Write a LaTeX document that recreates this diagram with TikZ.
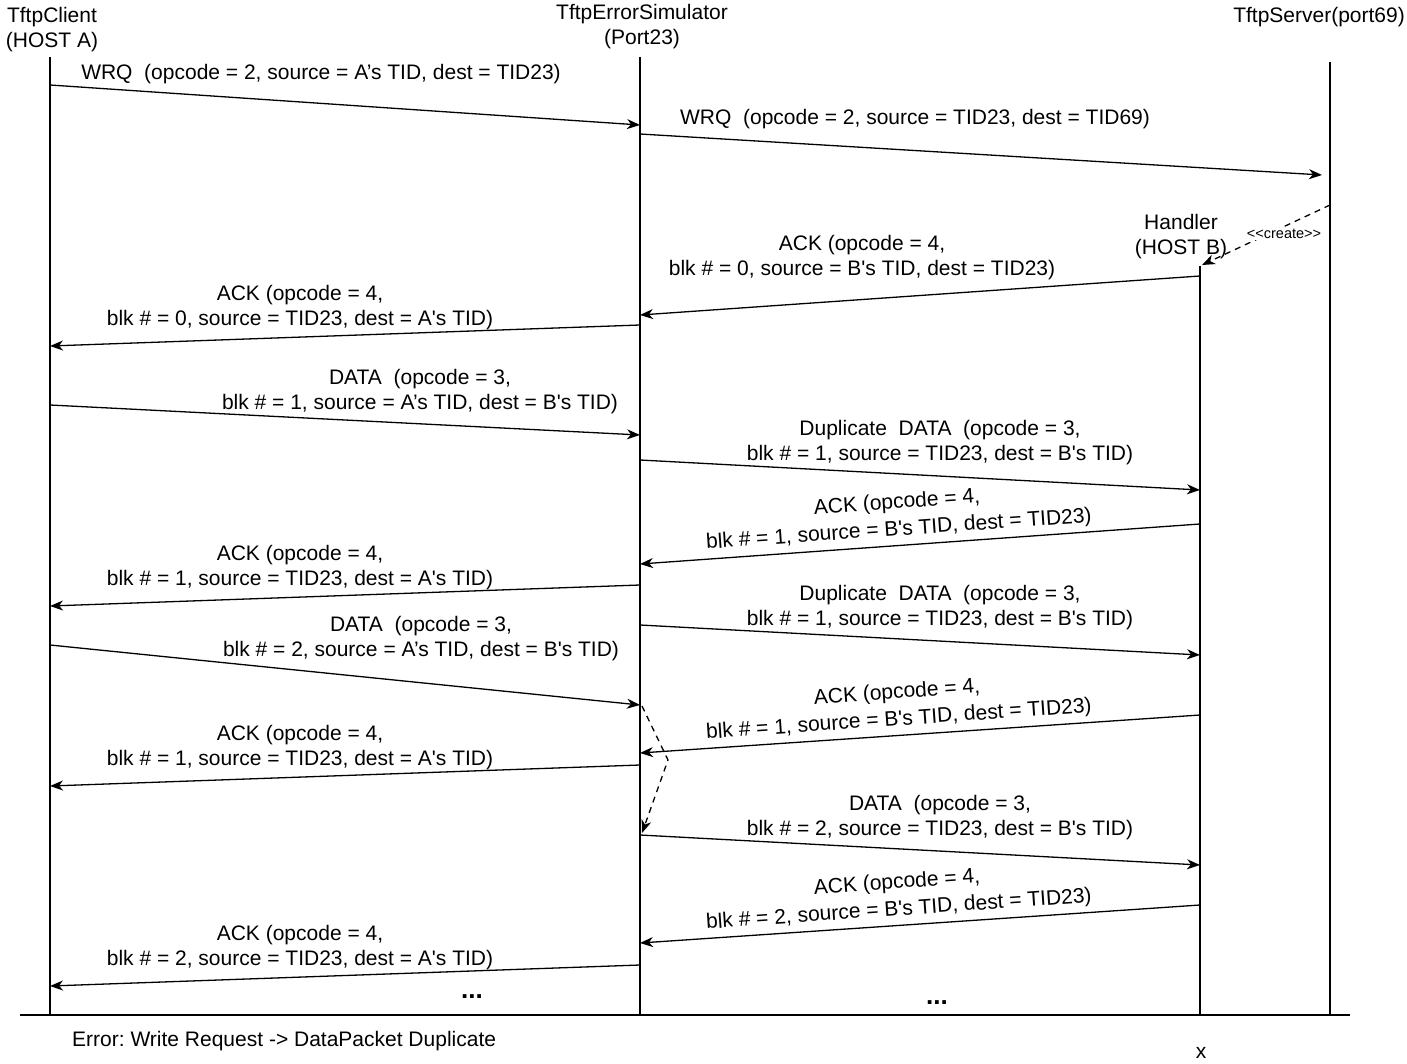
\documentclass[tikz,border=0pt]{standalone}
\usepackage{fontspec}
\setmainfont{Liberation Sans}[Ligatures=TeXOff]
\usetikzlibrary{arrows.meta}
\frenchspacing
\begin{document}
\begin{tikzpicture}[x=1pt,y=-1pt,
  msg/.style={line width=1.3pt,-{Stealth[length=13pt,width=10pt,inset=4pt]}},
  dmsg/.style={line width=1.3pt,dash pattern=on 6pt off 5pt,-{Stealth[length=13pt,width=10pt,inset=4pt]}},
  life/.style={line width=1.3pt},
  lbl/.style={align=center,inner sep=0pt,yshift=-2.5pt,font=\fontsize{21}{25}\selectfont},
  rlbl/.style={lbl,rotate=4,font=\fontsize{21}{27}\selectfont}]
\useasboundingbox (0,0) rectangle (1407,1064);
% headers
\node[lbl] (hA) at (52,27) {TftpClient\\(HOST A)};
\node[lbl] (hE) at (642,24) {TftpErrorSimulator\\(Port23)};
\node[lbl,anchor=east] (hS) at (1405,15) {TftpServer(port69)};
\node[lbl] (hB) at (1181,234) {Handler\\(HOST B)};
% lifeline ends
\coordinate (At) at (50,57);   \coordinate (Ab) at (50,1015);
\coordinate (Et) at (640,57);  \coordinate (Eb) at (640,1015);
\coordinate (St) at (1330,62); \coordinate (Sb) at (1330,1015);
\coordinate (Bt) at (1200,266); \coordinate (Bb) at (1200,1015);
\draw[life] (At) -- (Ab);
\draw[life] (Et) -- (Eb);
\draw[life] (St) -- (Sb);
\draw[life] (Bt) -- (Bb);
\coordinate (L1) at (20,1015); \coordinate (L2) at (1350,1015);
\draw[line width=2.4pt] (L1) -- (L2);
% messages
\coordinate (m1a) at (50,85);   \coordinate (m1b) at (640,125);
\draw[msg] (m1a) -- (m1b);
\node[lbl] (t1) at (321,72) {WRQ\ \ (opcode = 2, source = A’s TID, dest = TID23)};
\coordinate (m2a) at (640,134); \coordinate (m2b) at (1322,175);
\draw[msg] (m2a) -- (m2b);
\node[lbl] (t2) at (915,117) {WRQ\ \ (opcode = 2, source = TID23, dest = TID69)};
\coordinate (c1) at (1330,205); \coordinate (c2) at (1202,265);
\draw[dmsg] (c1) -- (c2);
\node[inner sep=1pt,fill=white,font=\fontsize{14.5}{16}\selectfont] (tc) at (1284,234) {<<create>>};
\coordinate (m4a) at (1200,276); \coordinate (m4b) at (640,315);
\draw[msg] (m4a) -- (m4b);
\node[lbl] (t4) at (862,255) {ACK (opcode = 4,\\blk \# = 0, source = B's TID, dest = TID23)};
\coordinate (m5a) at (640,325); \coordinate (m5b) at (50,346);
\draw[msg] (m5a) -- (m5b);
\node[lbl] (t5) at (300,305) {ACK (opcode = 4,\\blk \# = 0, source = TID23, dest = A's TID)};
\coordinate (m6a) at (50,405); \coordinate (m6b) at (640,435);
\draw[msg] (m6a) -- (m6b);
\node[lbl] (t6) at (420,389) {DATA\ \ (opcode = 3,\\blk \# = 1, source = A’s TID, dest = B's TID)};
\coordinate (m7a) at (640,460); \coordinate (m7b) at (1200,490);
\draw[msg] (m7a) -- (m7b);
\node[lbl] (t7) at (940,440) {Duplicate\ \ DATA\ \ (opcode = 3,\\blk \# = 1, source = TID23, dest = B's TID)};
\coordinate (m8a) at (1200,524); \coordinate (m8b) at (640,564);
\draw[msg] (m8a) -- (m8b);
\node[rlbl] (t8) at (898,514) {ACK (opcode = 4,\\blk \# = 1, source = B's TID, dest = TID23)};
\coordinate (m9a) at (640,585); \coordinate (m9b) at (50,606);
\draw[msg] (m9a) -- (m9b);
\node[lbl] (t9) at (300,565) {ACK (opcode = 4,\\blk \# = 1, source = TID23, dest = A's TID)};
\coordinate (m10a) at (640,625); \coordinate (m10b) at (1200,655);
\draw[msg] (m10a) -- (m10b);
\node[lbl] (t10) at (940,605) {Duplicate\ \ DATA\ \ (opcode = 3,\\blk \# = 1, source = TID23, dest = B's TID)};
\coordinate (m11a) at (50,645); \coordinate (m11b) at (640,705);
\draw[msg] (m11a) -- (m11b);
\node[lbl] (t11) at (421,636) {DATA\ \ (opcode = 3,\\blk \# = 2, source = A’s TID, dest = B's TID)};
\coordinate (m12a) at (1200,715); \coordinate (m12b) at (640,753);
\draw[msg] (m12a) -- (m12b);
\node[rlbl] (t12) at (898,704) {ACK (opcode = 4,\\blk \# = 1, source = B's TID, dest = TID23)};
\coordinate (m13a) at (640,765); \coordinate (m13b) at (50,786);
\draw[msg] (m13a) -- (m13b);
\node[lbl] (t13) at (300,745) {ACK (opcode = 4,\\blk \# = 1, source = TID23, dest = A's TID)};
\coordinate (d1) at (642,706); \coordinate (d2) at (668,760); \coordinate (d3) at (642,833);
\draw[dmsg] (d1) -- (d2) -- (d3);
\coordinate (m15a) at (640,835); \coordinate (m15b) at (1200,865);
\draw[msg] (m15a) -- (m15b);
\node[lbl] (t15) at (940,815) {DATA\ \ (opcode = 3,\\blk \# = 2, source = TID23, dest = B's TID)};
\coordinate (m16a) at (1200,905); \coordinate (m16b) at (640,943);
\draw[msg] (m16a) -- (m16b);
\node[rlbl] (t16) at (898,894) {ACK (opcode = 4,\\blk \# = 2, source = B's TID, dest = TID23)};
\coordinate (m17a) at (640,965); \coordinate (m17b) at (50,986);
\draw[msg] (m17a) -- (m17b);
\node[lbl] (t17) at (300,945) {ACK (opcode = 4,\\blk \# = 2, source = TID23, dest = A's TID)};
% dots and footer
\node[inner sep=0pt,font=\fontsize{26}{26}\selectfont\bfseries] (dots1) at (472,997) {...};
\node[inner sep=0pt,font=\fontsize{26}{26}\selectfont\bfseries] (dots2) at (937,1003) {...};
\node[lbl,anchor=west] (foot) at (72,1039) {Error: Write Request -> DataPacket Duplicate};
\node[lbl] (xx) at (1201,1050) {x};
\end{tikzpicture}
\end{document}
